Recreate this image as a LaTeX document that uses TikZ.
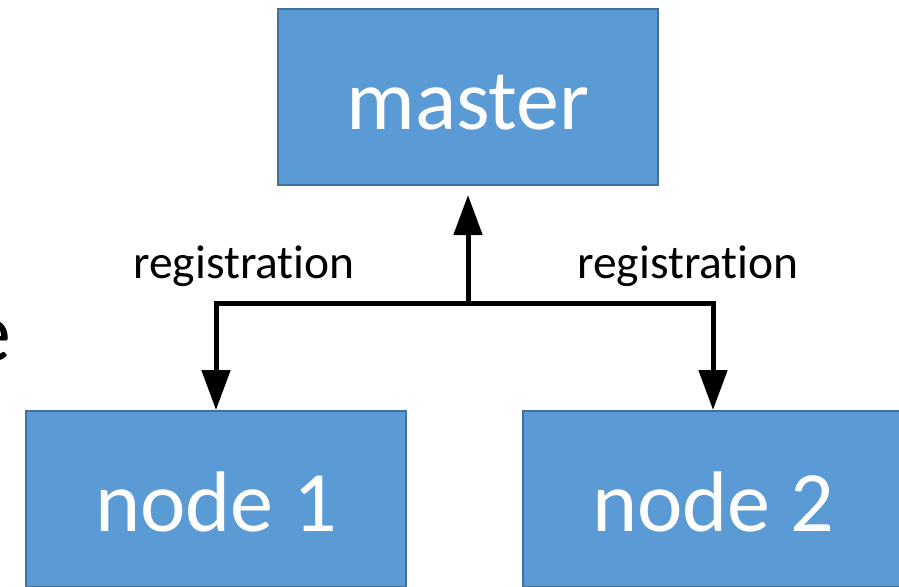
\documentclass[tikz,border=0pt]{standalone}
\usepackage{fontspec}
\setmainfont[Ligatures=NoCommon]{Carlito}
\usetikzlibrary{arrows.meta}
\definecolor{boxfill}{HTML}{5B9BD5}
\definecolor{boxline}{HTML}{41719C}
\begin{document}
\begin{tikzpicture}[x=1pt,y=-1pt,
  box/.style={draw=boxline, fill=boxfill, line width=2pt, minimum width=380pt,
    minimum height=176pt, inner sep=0pt, text=white, text height=65pt, text depth=0pt,
    font=\fontsize{86}{100}\selectfont},
  lbl/.style={font=\fontsize{47.5}{56}\selectfont, inner sep=0pt, anchor=base},
  conn/.style={line width=5pt, -{Triangle[width=28pt,length=40pt]}}]
\useasboundingbox (0,0) rectangle (899,586);
\clip (0,0) rectangle (899,586);
\node[anchor=base east, inner sep=0pt, font=\fontsize{86}{100}\selectfont] (e) at (11,361) {e};
\node[box] (master) at (468,97) {master};
\node[box] (n1) at (216,499) {node 1};
\node[box] (n2) at (713,499) {node 2};
\coordinate (j) at (468,303);
\draw[conn, shorten >=9pt] (j) -- (master.south);
\draw[conn] (j) -| (n1.north);
\draw[conn] (j) -| (n2.north);
\node[lbl] (l1) at (244,278) {registration};
\node[lbl] (l2) at (688,278) {registration};
\end{tikzpicture}
\end{document}
